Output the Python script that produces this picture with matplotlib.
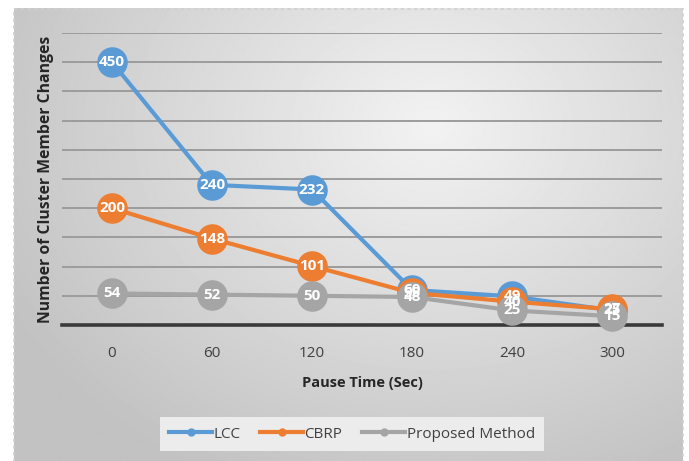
import numpy as np
import matplotlib
matplotlib.use("Agg")
import matplotlib.pyplot as plt
from matplotlib.patches import Rectangle

plt.rcParams['font.family'] = ['Open Sans', 'DejaVu Sans']

pause_times = ["0", "60", "120", "180", "240", "300"]
lcc = [450, 240, 232, 60, 49, 25]
cbrp = [200, 148, 101, 55, 40, 27]
proposed = [54, 52, 50, 48, 25, 15]

series = [("LCC", lcc, "#5b9bd5"),
          ("CBRP", cbrp, "#ed7d31"),
          ("Proposed Method", proposed, "#a5a5a5")]

W, H = 689, 461
fig = plt.figure(figsize=(W / 100, H / 100), dpi=100)
fig.patch.set_facecolor("white")

# gradient backdrop for the chart area
bg = fig.add_axes([0, 0, 1, 1], zorder=-10)
bg.set_xlim(0, W)
bg.set_ylim(H, 0)
bg.axis("off")
yy, xx = np.mgrid[0:H, 0:W]
d = np.sqrt(((xx - 430) / 520.0) ** 2 + ((yy - 120) / 420.0) ** 2)
shade = np.clip(0.95 - 0.2 * d, 0.76, 0.95)
bg.imshow(shade, cmap="gray", vmin=0, vmax=1, extent=[14, W - 6, H, 9],
          interpolation="bilinear", aspect="auto")
bg.add_patch(Rectangle((14, 9), W - 20, H, fill=False, edgecolor="#d0d0d0",
                       linestyle=(0, (2, 2)), linewidth=1.2))

ax = fig.add_axes([62 / W, (H - 325) / H, 600 / W, 292 / H])
ax.patch.set_alpha(0)
x = np.arange(len(pause_times))
ax.set_xlim(-0.5, len(pause_times) - 0.5)
ax.set_ylim(0, 500)
ax.set_yticks(np.arange(0, 501, 50))
ax.yaxis.grid(True, color="#9c9c9c", linewidth=1.4)
ax.set_axisbelow(True)
ax.tick_params(axis="y", length=0, labelleft=False)
ax.tick_params(axis="x", length=0, labelsize=11, labelcolor="#404040", pad=15)
ax.set_xticks(x)
ax.set_xticklabels(pause_times)
for s in ["top", "right", "left"]:
    ax.spines[s].set_visible(False)
ax.spines["bottom"].set_color("#3a3a3a")
ax.spines["bottom"].set_linewidth(2.6)

for i, (name, vals, col) in enumerate(series):
    ax.plot(x, vals, color=col, linewidth=3, marker="o", markersize=22,
            markeredgewidth=0, label=name, zorder=3 + i, clip_on=False)

for name, vals, col in series:
    for xi, v in zip(x, vals):
        ax.text(xi, v, str(v), ha="center", va="center", color="white",
                fontsize=11, fontweight="bold", zorder=10)

ax.set_xlabel("Pause Time (Sec)", fontsize=10.5, fontweight="bold",
              color="#262626", labelpad=11)
ax.set_ylabel("Number of Cluster Member Changes", fontsize=11.3,
              fontweight="bold", color="#262626", labelpad=6)

handles = [plt.Line2D([], [], color=c, linewidth=3, marker="o", markersize=5)
           for _, _, c in series]
leg = fig.legend(handles, [s[0] for s in series], loc="center",
                 bbox_to_anchor=(352 / W, (H - 434) / H), ncol=3,
                 frameon=True, fancybox=False, fontsize=11, handlelength=2.8,
                 handletextpad=0.1, columnspacing=1.3, borderpad=0.6)
leg.get_frame().set_facecolor("#ececec")
leg.get_frame().set_edgecolor("none")
leg.get_frame().set_alpha(1)
for t in leg.get_texts():
    t.set_color("#404040")

fig.savefig("out.png", dpi=100)
